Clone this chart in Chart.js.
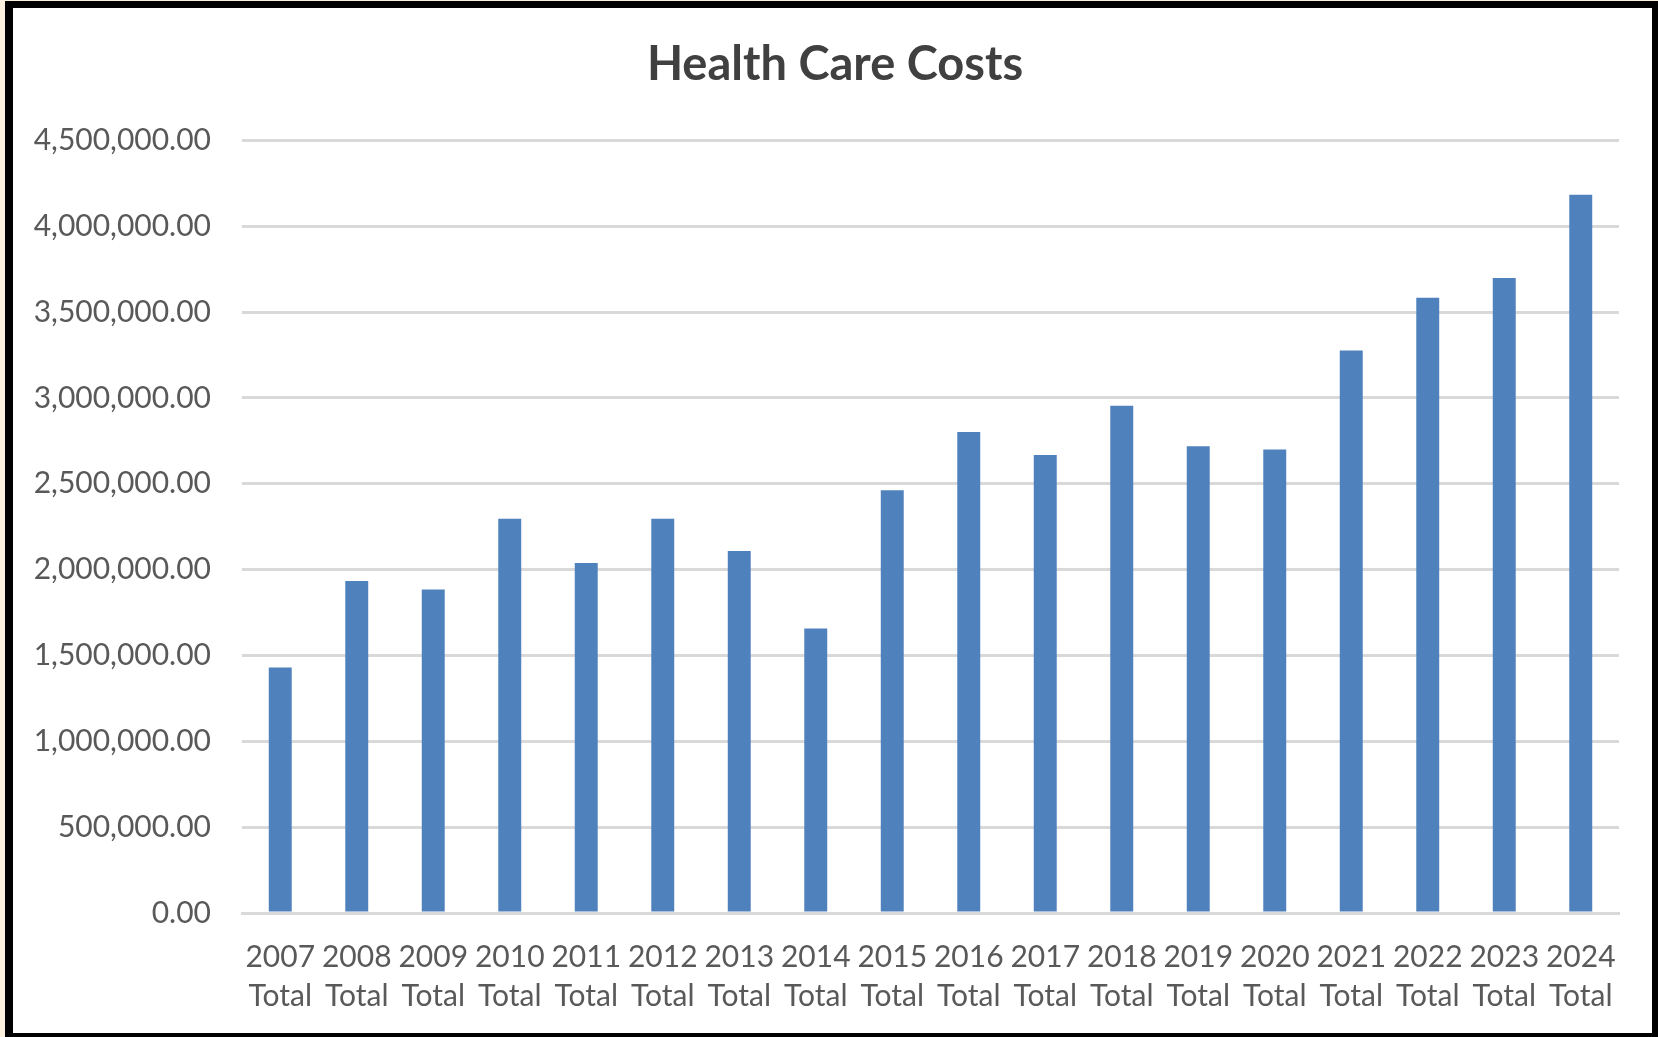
<!DOCTYPE html>
<html lang="en">
<head>
    <meta charset="UTF-8">
    <title>Health Care Costs</title>
    <script src="https://cdn.jsdelivr.net/npm/chart.js"></script>
    <style>
        html, body {
            margin: 0;
            padding: 0;
            background: #fbf1de;
            width: 1658px;
            height: 1037px;
            overflow: hidden;
        }
        .frame {
            position: absolute;
            left: 5px;
            top: 1px;
            width: 1639px;
            height: 1025px;
            border-style: solid;
            border-color: #000;
            border-width: 7px 6px 4px 8px;
            background: #fff;
        }
    </style>
</head>
<body>
    <div class="frame">
        <canvas id="costChart"></canvas>
    </div>
    <script>
        // categories and values
        const years = ['2007', '2008', '2009', '2010', '2011', '2012', '2013', '2014', '2015',
                       '2016', '2017', '2018', '2019', '2020', '2021', '2022', '2023', '2024'];
        const costs = [1430000, 1934000, 1884000, 2297000, 2039000, 2297000, 2109000, 1657000, 2462000,
                       2802000, 2668000, 2955000, 2718000, 2699000, 3277000, 3584000, 3698000, 4183000];
        const yMin = 0;
        const yMax = 4500000;
        const yStep = 500000;

        const labels = years.map(y => [y, 'Total']);

        const ctx = document.getElementById('costChart').getContext('2d');
        const chart = new Chart(ctx, {
            type: 'bar',
            data: {
                labels: labels,
                datasets: [{
                    label: 'Health Care Costs',
                    data: costs,
                    backgroundColor: '#4f81bd',
                    borderWidth: 0,
                    categoryPercentage: 1.0,
                    barPercentage: 0.3
                }]
            },
            options: {
                responsive: true,
                maintainAspectRatio: false,
                animation: false,
                layout: {
                    padding: { top: 0, right: 0, bottom: 0, left: 5 }
                },
                plugins: {
                    legend: { display: false },
                    tooltip: { enabled: false },
                    title: {
                        display: true,
                        text: 'Health Care Costs',
                        color: '#404040',
                        font: { family: 'Lato', size: 47, weight: 'bold', lineHeight: 1.2 },
                        padding: { top: 29, bottom: 47 }
                    }
                },
                scales: {
                    x: {
                        grid: { display: false, drawTicks: false },
                        border: { display: true, color: '#d9d9d9', width: 3 },
                        ticks: {
                            color: '#595959',
                            font: { family: 'Lato', size: 30, lineHeight: 1.3 },
                            padding: 25,
                            maxRotation: 0,
                            minRotation: 0,
                            autoSkip: false
                        },
                        afterFit: function (scale) {
                            scale.height = 120;
                        }
                    },
                    y: {
                        min: yMin,
                        max: yMax,
                        grid: { color: '#d9d9d9', lineWidth: 3, drawTicks: false },
                        border: { display: false },
                        ticks: {
                            stepSize: yStep,
                            color: '#595959',
                            font: { family: 'Lato', size: 30 },
                            padding: 31,
                            callback: function (value) {
                                return value.toLocaleString('en-US', { minimumFractionDigits: 2, maximumFractionDigits: 2 });
                            }
                        },
                        afterFit: function (scale) {
                            scale.width = 224;
                        }
                    },
                    // empty right-hand spacer so the title stays centred on the frame
                    spacer: {
                        type: 'linear',
                        position: 'right',
                        display: true,
                        grid: { display: false, drawTicks: false },
                        border: { display: false },
                        ticks: { display: false },
                        afterFit: function (scale) {
                            scale.width = 33;
                        }
                    }
                }
            }
        });
    </script>
</body>
</html>
